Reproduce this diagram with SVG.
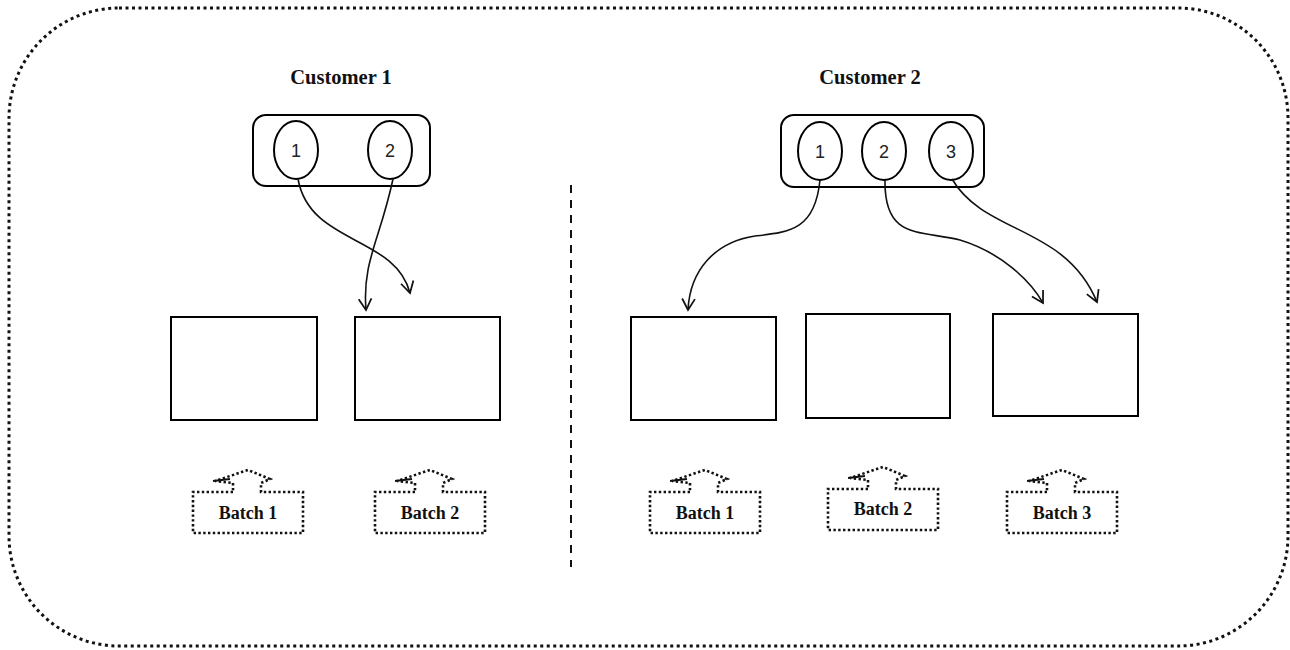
<svg xmlns="http://www.w3.org/2000/svg" width="1290" height="650" viewBox="0 0 1290 650">
<style>
.title{font-family:"Liberation Serif",serif;font-weight:bold;font-size:20.5px;fill:#111;text-anchor:middle}
.num{font-family:"Liberation Sans",sans-serif;font-size:18px;fill:#222;text-anchor:middle}
.blab{font-family:"Liberation Serif",serif;font-weight:bold;font-size:18px;fill:#111;text-anchor:middle}
.box{fill:#fff;stroke:#000;stroke-width:2}
.ell{fill:#fff;stroke:#000;stroke-width:2}
.conn{fill:none;stroke:#111;stroke-width:1.6;marker-end:url(#arr)}
.dot{fill:none;stroke:#111;stroke-width:2.6;stroke-dasharray:2.4 2.4}
</style>
<defs>
<marker id="arr" viewBox="0 0 20 20" refX="18" refY="10" markerWidth="16" markerHeight="16" markerUnits="userSpaceOnUse" orient="auto">
<path d="M4 2 L18 10 L4 18" fill="none" stroke="#111" stroke-width="2.2"/>
</marker>
<g id="batchshape">
<path d="M -15 0 L -55 0 L -55 41 L 55 41 L 55 0 L 13 0 L 13 -9 L 22 -13 L 0 -22 L -33 -11 L -15 -9 Z" class="dot"/>
<path d="M -35 -11 L -18 -13" fill="none" stroke="#111" stroke-width="2"/>
</g>
</defs>
<rect x="9" y="8" width="1279" height="638" rx="110" ry="110" fill="none" stroke="#111" stroke-width="3" stroke-dasharray="3 3.5"/>
<g id="divider"><line x1="571" y1="185" x2="571" y2="567" stroke="#111" stroke-width="2" stroke-dasharray="8 7"/></g>

<g id="customer1">
<text x="341" y="84" class="title">Customer 1</text>
<rect x="253" y="115" width="177" height="71" rx="13" class="box"/>
<g id="c1-e1"><ellipse cx="296" cy="150" rx="22" ry="29" class="ell"/><text x="296" y="157" class="num">1</text></g>
<g id="c1-e2"><ellipse cx="390" cy="150" rx="22" ry="29" class="ell"/><text x="390" y="157" class="num">2</text></g>
</g>

<g id="customer2">
<text x="870" y="84" class="title">Customer 2</text>
<rect x="781" y="115" width="203" height="72" rx="13" class="box"/>
<g id="c2-e1"><ellipse cx="820" cy="151" rx="22" ry="29" class="ell"/><text x="820" y="158" class="num">1</text></g>
<g id="c2-e2"><ellipse cx="884" cy="151" rx="22" ry="29" class="ell"/><text x="884" y="158" class="num">2</text></g>
<g id="c2-e3"><ellipse cx="951" cy="151" rx="22" ry="29" class="ell"/><text x="951" y="158" class="num">3</text></g>
</g>

<g id="c1-box1"><rect x="171" y="317" width="146" height="103" class="box"/></g>
<g id="c1-box2"><rect x="355" y="317" width="145" height="103" class="box"/></g>
<g id="c2-box1"><rect x="631" y="317" width="145" height="103" class="box"/></g>
<g id="c2-box2"><rect x="806" y="314" width="144" height="104" class="box"/></g>
<g id="c2-box3"><rect x="993" y="314" width="145" height="102" class="box"/></g>

<g id="connectors">
<path class="conn" d="M 298 179 C 310 245, 395 235, 410 293"/>
<path class="conn" d="M 393 179 C 380 240, 362 262, 366 310"/>
<path class="conn" d="M 820 180 C 815 230, 790 232, 755 236 C 715 242, 690 270, 688 310"/>
<path class="conn" d="M 885 180 C 884 240, 920 230, 960 240 C 1000 252, 1030 280, 1043 303"/>
<path class="conn" d="M 952 179 C 985 235, 1065 225, 1097 302"/>
</g>

<g id="c1-batch1"><use href="#batchshape" transform="translate(248,492)"/><text x="248" y="519" class="blab">Batch 1</text></g>
<g id="c1-batch2"><use href="#batchshape" transform="translate(430,492)"/><text x="430" y="519" class="blab">Batch 2</text></g>
<g id="c2-batch1"><use href="#batchshape" transform="translate(705,492)"/><text x="705" y="519" class="blab">Batch 1</text></g>
<g id="c2-batch2"><use href="#batchshape" transform="translate(883,489)"/><text x="883" y="515" class="blab">Batch 2</text></g>
<g id="c2-batch3"><use href="#batchshape" transform="translate(1062,492)"/><text x="1062" y="519" class="blab">Batch 3</text></g>
</svg>
